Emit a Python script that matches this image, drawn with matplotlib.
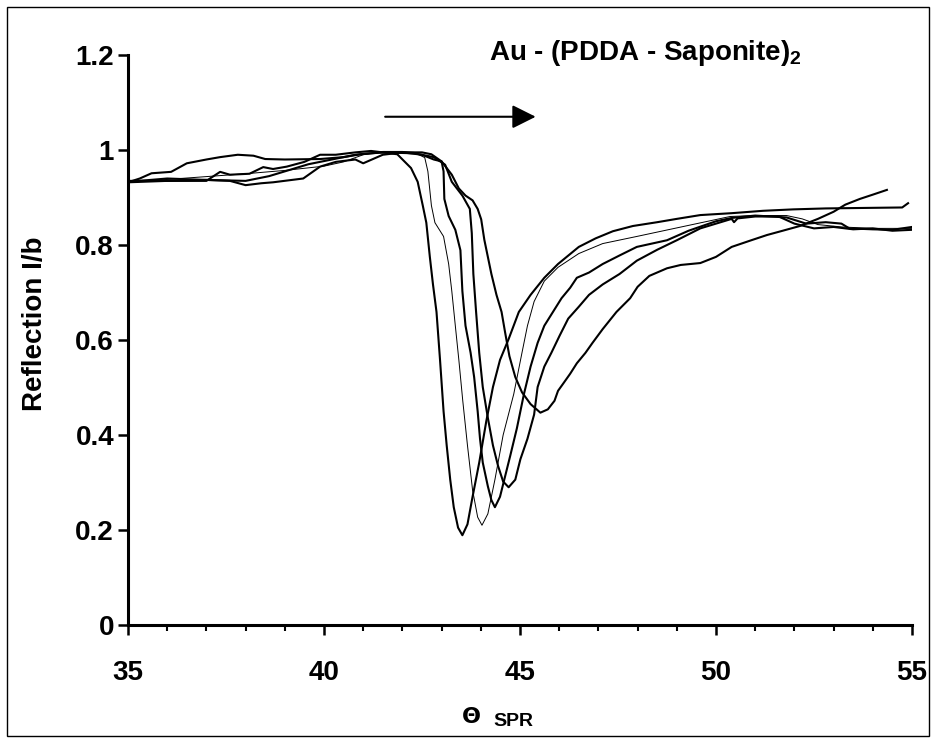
import matplotlib
matplotlib.use("Agg")
import matplotlib.pyplot as plt
from matplotlib.patches import Rectangle
from matplotlib.ticker import MultipleLocator, FuncFormatter

plt.rcParams['font.family'] = ['Liberation Sans', 'DejaVu Sans']
plt.rcParams['font.weight'] = 'bold'
plt.rcParams['mathtext.fontset'] = 'custom'
plt.rcParams['mathtext.default'] = 'bf'
plt.rcParams['mathtext.bf'] = 'Liberation Sans:bold'

# SPR scans (angle in degrees, reflection I/I0)
theta1 = [35.0, 36.0, 37.0, 37.35, 37.6, 38.1, 38.45, 38.7, 39.05, 39.5, 39.9, 40.3, 40.8,
          41.2, 41.5, 41.87, 42.22, 42.39, 42.52, 42.61, 42.70, 42.78, 42.87, 42.96, 43.05,
          43.13, 43.22, 43.31, 43.42, 43.53, 43.66, 43.79, 43.96, 44.14, 44.31, 44.49, 44.71,
          44.97, 45.27, 45.62, 45.97, 46.50, 46.93, 47.37, 47.88, 48.5, 49.0, 49.6, 50.4,
          51.2, 51.97, 52.8, 53.75, 54.75, 54.9]
refl1 = [0.932, 0.935, 0.935, 0.954, 0.948, 0.950, 0.964, 0.960, 0.965, 0.975, 0.990, 0.990,
         0.995, 0.998, 0.995, 0.991, 0.962, 0.933, 0.883, 0.847, 0.775, 0.717, 0.659, 0.558,
         0.450, 0.378, 0.306, 0.248, 0.205, 0.189, 0.212, 0.270, 0.342, 0.429, 0.501, 0.558,
         0.602, 0.659, 0.695, 0.731, 0.760, 0.796, 0.814, 0.829, 0.840, 0.848, 0.855, 0.863,
         0.867, 0.872, 0.875, 0.877, 0.878, 0.879, 0.888]

theta2 = [35.0, 36.0, 37.0, 38.0, 39.0, 40.0, 40.5, 41.0, 41.5, 42.0, 42.30, 42.57, 42.65,
          42.74, 42.83, 43.05, 43.18, 43.26, 43.35, 43.44, 43.54, 43.66, 43.79, 43.92, 44.03,
          44.18, 44.36, 44.57, 44.84, 45.05, 45.19, 45.36, 45.62, 45.97, 46.50, 47.11, 47.98,
          50.36, 51.0, 51.8, 52.2, 52.6, 53.2, 54.0, 55.0]
refl2 = [0.932, 0.938, 0.944, 0.950, 0.957, 0.966, 0.975, 0.990, 0.997, 0.997, 0.995, 0.984,
         0.955, 0.883, 0.847, 0.818, 0.760, 0.703, 0.630, 0.558, 0.472, 0.378, 0.284, 0.227,
         0.210, 0.234, 0.306, 0.400, 0.486, 0.573, 0.630, 0.681, 0.724, 0.753, 0.782, 0.803,
         0.818, 0.860, 0.862, 0.862, 0.855, 0.843, 0.838, 0.835, 0.835]

theta3 = [35.0, 36.0, 37.0, 37.6, 38.0, 38.4, 38.7, 39.47, 39.9, 40.3, 40.8, 41.0, 41.5, 42.0,
          42.5, 42.74, 43.00, 43.05, 43.07, 43.18, 43.35, 43.48, 43.53, 43.61, 43.74, 43.83,
          43.92, 43.98, 44.05, 44.18, 44.27, 44.36, 44.49, 44.62, 44.75, 44.92, 45.10, 45.27,
          45.45, 45.62, 45.84, 46.06, 46.28, 46.45, 46.76, 47.11, 47.54, 47.98, 48.75, 49.3,
          50.0, 50.4, 51.0, 51.8, 52.3, 52.8, 53.2, 53.4, 54.0, 54.5, 55.0]
refl3 = [0.935, 0.935, 0.937, 0.935, 0.926, 0.930, 0.932, 0.940, 0.965, 0.975, 0.980, 0.972,
         0.990, 0.995, 0.995, 0.991, 0.976, 0.955, 0.897, 0.861, 0.832, 0.789, 0.703, 0.630,
         0.573, 0.522, 0.450, 0.392, 0.342, 0.292, 0.263, 0.248, 0.270, 0.313, 0.356, 0.414,
         0.486, 0.544, 0.594, 0.630, 0.659, 0.688, 0.710, 0.731, 0.742, 0.760, 0.778, 0.796,
         0.810, 0.830, 0.850, 0.857, 0.862, 0.858, 0.845, 0.848, 0.845, 0.835, 0.833, 0.832,
         0.838]

theta4 = [35.0, 36.0, 37.0, 38.0, 38.6, 39.0, 39.6, 40.2, 40.8, 41.5, 42.3, 42.8, 43.09, 43.26,
          43.53, 43.72, 43.77, 43.81, 43.88, 43.96, 44.05, 44.18, 44.31, 44.44, 44.57, 44.71,
          44.88, 45.01, 45.19, 45.36, 45.45, 45.62, 45.80, 46.01, 46.23, 46.50, 46.76, 47.11,
          47.54, 47.98, 48.5, 49.0, 49.6, 50.4, 50.46, 50.55, 51.0, 51.6, 52.0, 52.5, 53.0,
          53.5, 54.0, 54.5, 55.0]
refl4 = [0.933, 0.940, 0.937, 0.935, 0.945, 0.955, 0.970, 0.980, 0.990, 0.995, 0.993, 0.985,
         0.969, 0.933, 0.904, 0.876, 0.825, 0.739, 0.659, 0.573, 0.501, 0.436, 0.378, 0.335,
         0.302, 0.290, 0.306, 0.349, 0.392, 0.443, 0.501, 0.544, 0.573, 0.609, 0.645, 0.670,
         0.695, 0.717, 0.739, 0.767, 0.790, 0.810, 0.835, 0.855, 0.848, 0.856, 0.860, 0.860,
         0.845, 0.835, 0.838, 0.833, 0.835, 0.830, 0.832]

theta5 = [35.0, 35.3, 35.6, 36.1, 36.5, 37.0, 37.35, 37.8, 38.2, 38.5, 39.0, 39.9, 40.5, 41.0,
          41.5, 42.0, 42.5, 42.8, 43.00, 43.26, 43.44, 43.61, 43.79, 43.92, 44.01, 44.09, 44.18,
          44.27, 44.40, 44.53, 44.62, 44.73, 44.88, 45.05, 45.27, 45.52, 45.71, 45.88, 45.97,
          46.10, 46.28, 46.45, 46.67, 46.85, 47.11, 47.46, 47.81, 48.0, 48.3, 48.75, 49.1,
          49.6, 50.0, 50.4, 50.9, 51.3, 51.7, 52.14, 52.6, 53.0, 53.3, 53.67, 54.0, 54.36]
refl5 = [0.932, 0.940, 0.951, 0.954, 0.972, 0.980, 0.985, 0.990, 0.988, 0.981, 0.980, 0.981,
         0.985, 0.992, 0.995, 0.995, 0.990, 0.980, 0.976, 0.948, 0.919, 0.904, 0.894, 0.876,
         0.854, 0.811, 0.775, 0.739, 0.695, 0.659, 0.616, 0.566, 0.522, 0.490, 0.465, 0.447,
         0.454, 0.472, 0.493, 0.508, 0.529, 0.551, 0.573, 0.594, 0.623, 0.659, 0.688, 0.712,
         0.735, 0.751, 0.758, 0.762, 0.775, 0.796, 0.810, 0.821, 0.830, 0.840, 0.855, 0.870,
         0.885, 0.897, 0.906, 0.916]

scans = [(theta1, refl1, 1.5), (theta2, refl2, 0.7), (theta3, refl3, 1.5),
         (theta4, refl4, 1.5), (theta5, refl5, 1.5)]

fig = plt.figure(figsize=(9.37, 7.43), dpi=100)
ax = fig.add_axes([128 / 937, 118 / 743, 784 / 937, 570 / 743])

for th, r, lw in scans:
    ax.plot(th, r, color='black', lw=lw)

ax.set_xlim(35, 55)
ax.set_ylim(0, 1.2)
ax.xaxis.set_major_locator(MultipleLocator(5))
ax.xaxis.set_minor_locator(MultipleLocator(1))
ax.yaxis.set_major_locator(MultipleLocator(0.2))
ax.yaxis.set_major_formatter(FuncFormatter(lambda v, p: '{:g}'.format(round(v, 1))))
for s in ['top', 'right']:
    ax.spines[s].set_visible(False)
for s in ['left', 'bottom']:
    ax.spines[s].set_linewidth(2.2)
ax.tick_params(axis='x', which='major', direction='out', length=7, width=1.8,
               labelsize=20, pad=18)
ax.tick_params(axis='x', which='minor', direction='out', length=4.5, width=1.5)
ax.tick_params(axis='y', direction='out', length=7, width=1.8, labelsize=20, pad=3)

# direction arrow and sample name
ax.annotate('', xy=(45.4, 1.07), xytext=(41.56, 1.07),
            arrowprops=dict(arrowstyle='-|>,head_length=0.72,head_width=0.36',
                            mutation_scale=20, color='black', lw=1.5,
                            shrinkA=0, shrinkB=0))
ax.text(44.2, 1.205, 'Au - (PDDA - Saponite)$_2$', fontsize=20, fontweight='bold',
        ha='left', va='center', clip_on=False)

fig.text(35 / 937, 1 - 324 / 743, 'Reflection I/b', rotation=90, fontsize=20,
         fontweight='bold', ha='center', va='center')
fig.text(471 / 937, 1 - 717 / 743, 'Θ', family='DejaVu Sans', fontsize=16,
         fontweight='bold', ha='center', va='center')
fig.text(493 / 937, 1 - 722 / 743, 'SPR', fontsize=14, fontweight='bold',
         ha='left', va='center')

fig.patches.append(Rectangle((7 / 937, 7 / 743), 922 / 937, 729 / 743, fill=False,
                             edgecolor='black', lw=1, transform=fig.transFigure))

fig.savefig('out.png', dpi=100)
